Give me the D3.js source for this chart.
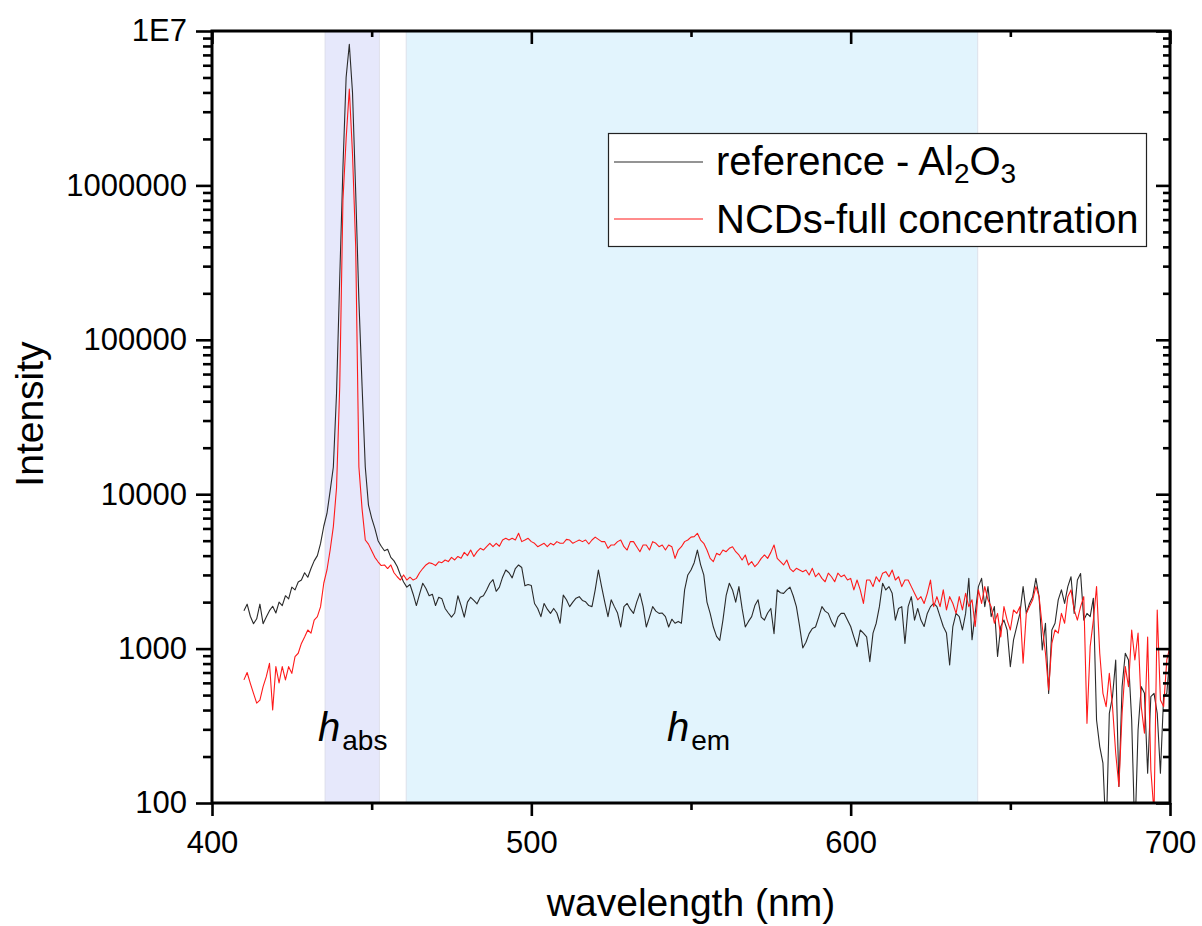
<!DOCTYPE html>
<html><head><meta charset="utf-8">
<script src="https://cdn.jsdelivr.net/npm/d3@7"></script>
<style>
body{margin:0;background:#fff;}
svg{display:block;}
text{font-family:"Liberation Sans",Arial,sans-serif;}
</style>
</head><body>
<svg id="chart" width="1202" height="926"></svg>
<script>
// ---------------- DATA ----------------
const wavelengthStart = 410, wavelengthEnd = 700; // 1 nm sampling
const seriesNames = ["reference - Al2O3", "NCDs-full concentration"];
const referenceAl2O3 = [
 1760,1940,1620,1450,1560,1940,1450,1600,1760,1880, // 410
 1700,2000,1900,2200,2100,2500,2400,2700,2780,3100, // 420
 2900,3300,3700,4000,4800,6200,7500,10500,15000,45000, // 430
 250000,1300000,5000000,8200000,4000000,900000,180000,50000,15000,8500, // 440
 7000,6000,5000,4600,4300,4400,3900,3700,3400,3000, // 450
 2700,2500,2600,2250,1900,2250,2650,2450,2200,2250, // 460
 1900,2150,2100,1820,1700,1600,1700,2200,1900,1600, // 470
 2000,2150,2050,1950,2150,2200,2400,2650,2800,2350, // 480
 2500,2900,3230,3100,2870,3300,3480,3350,2550,2600, // 490
 2560,1960,1820,1610,1960,1800,1690,1820,1700,1460, // 500
 2220,2070,1870,2000,2120,2170,2050,2010,1900,1870, // 510
 2400,3230,2520,2000,1610,2070,1870,1700,1380,1870, // 520
 1960,1800,1690,2000,2280,1870,1380,1600,1870,1750, // 530
 1690,1700,1610,1380,1550,1460,1500,1460,2400,3000, // 540
 3230,3600,4350,3500,3000,2000,1690,1380,1200,1130, // 550
 1530,2200,2650,2400,2000,2520,1820,1380,1500,1610, // 560
 1900,2070,1600,1530,1700,1820,1250,2400,2300,2280, // 570
 2400,2500,2200,1870,1400,1010,1100,1250,1350,1380, // 580
 1600,1870,1750,1690,1500,1380,1600,1690,1690,1530, // 590
 1390,1190,1030,1320,1260,1190,823,1260,1460,1870, // 600
 2650,2400,2520,2280,1530,1820,1870,1080,1870,2170, // 610
 1530,1820,1530,1390,1690,1870,1960,1870,1610,1390, // 620
 1260,783,1390,1690,1610,1320,1690,2850,1140,1690, // 630
 2520,2850,1870,2520,1610,1870,888,1390,1530,1320, // 640
 764,1140,1390,1690,2520,1690,1960,2170,2850,2170, // 650
 980,1460,513,1320,1460,2070,2400,1960,2520,2920, // 660
 1690,2780,3060,1530,1690,1610,2120,345,232,181, // 670
 60,381,489,844,128,567,933,844,345,60, // 680
 297,567,513,156,489,513,381,156,489,513, // 690
 933 // 700
];
const ncdsFull = [
 627,700,596,513,443,464,567,658,803,400, // 410
 764,600,764,627,764,691,888,933,1080,1190, // 420
 1320,1260,1530,1610,1870,2650,3230,4350,6170,11000, // 430
 50000,800000,2000000,4200000,1600000,400000,15000,8000,5050,4750, // 440
 4300,3900,3650,3450,3480,3300,3480,3100,2920,2780, // 450
 3000,2780,2900,2780,2850,3100,3300,3480,3600,3550, // 460
 3450,3650,3600,3750,3660,3900,3750,3950,3850,4200, // 470
 4000,4350,3950,4250,4460,4350,4570,4810,4570,4810, // 480
 4600,5050,5180,5050,5180,5050,5580,4930,5050,5180, // 490
 4930,4810,4570,4690,4810,4570,4810,4690,4930,4810, // 500
 4810,5100,5050,4810,4930,5050,4930,5050,4760,5050, // 510
 5270,5100,4930,4930,4460,4690,4690,4930,5050,4570, // 520
 4350,4930,4930,4570,4240,4690,4690,4350,4930,4810, // 530
 4570,4690,4350,4690,4570,3840,4350,4570,4930,5050, // 540
 5270,5310,5580,5050,4810,4350,3840,3660,4140,4040, // 550
 4350,4240,4460,4570,4240,4040,3750,4040,3480,3660, // 560
 3390,3570,3840,4040,3840,4200,4690,3840,3660,3480, // 570
 3750,3300,3150,3310,3230,3150,3230,3000,3310,2920, // 580
 3080,2850,2710,3080,2920,2710,3080,2920,3000,2780, // 590
 2850,2400,2780,2400,1960,2780,2780,2520,2920,2710, // 600
 3080,3150,2920,3230,2780,2920,2520,2780,2780,2520, // 610
 2280,2070,2170,1960,2280,2780,1870,2170,1870,2400, // 620
 1780,2170,1960,1690,2170,1780,2280,1870,2070,1390, // 630
 2400,1960,2520,2070,1870,1460,1690,1190,1870,1530, // 640
 1320,1780,1690,1870,803,1690,1870,2070,2520,2170, // 650
 1390,933,540,1080,1320,1260,1690,1460,2170,2400, // 660
 1780,1530,1870,2170,328,1030,1530,2520,933,513, // 670
 421,691,421,210,128,381,764,567,1320,844, // 680
 1260,421,283,1190,164,86,1780,464,421,844, // 690
 1030 // 700
];
const xMajorTicks = [400, 500, 600, 700];
const xMinorTicks = [450, 550, 650];
const yMajorTicks = [100, 1000, 10000, 100000, 1000000, 10000000];
const yTickLabels = ["100", "1000", "10000", "100000", "1000000", "1E7"];
const bandRanges = [[435.4, 452.4], [460.8, 639.8]];
const bandLabels = ["abs", "em"];

// ---------------- CHART ----------------
const wavelengths = d3.range(wavelengthStart, wavelengthEnd + 1);
const svg = d3.select("#chart");
const L = 212, R = 1170, T = 31, B = 803;
const font = "'Liberation Sans', Arial, sans-serif";

const x = d3.scaleLinear().domain([400, 700]).range([L, R]);
const y = d3.scaleLog().domain([100, 1e7]).range([B, T]);

svg.append("rect").attr("width", 1202).attr("height", 926).attr("fill", "#fff");

// shaded bands
const bandFills = ["#e6e8fb", "#e2f4fd"];
bandRanges.forEach((b, i) => {
  svg.append("rect")
    .attr("x", x(b[0])).attr("y", T)
    .attr("width", x(b[1]) - x(b[0])).attr("height", B - T)
    .attr("fill", bandFills[i])
    .attr("stroke", "#d9dbe6").attr("stroke-width", 0.8);
});

// clip
svg.append("clipPath").attr("id", "plotclip")
  .append("rect").attr("x", L).attr("y", T).attr("width", R - L).attr("height", B - T);

const line = d3.line().x((d, i) => x(wavelengths[i])).y(d => y(d));
const g = svg.append("g").attr("clip-path", "url(#plotclip)");
g.append("path").datum(referenceAl2O3).attr("d", line)
  .attr("fill", "none").attr("stroke", "#2a2a2a").attr("stroke-width", 1.1).attr("stroke-linejoin", "round");
g.append("path").datum(ncdsFull).attr("d", line)
  .attr("fill", "none").attr("stroke", "#ff1a1a").attr("stroke-width", 1.1).attr("stroke-linejoin", "round");

// band labels
const bandLabelPos = [[318, 741], [667, 741]];
bandRanges.forEach((b, i) => {
  const t = svg.append("text").attr("x", bandLabelPos[i][0]).attr("y", bandLabelPos[i][1])
    .attr("font-family", font).attr("fill", "#000");
  t.append("tspan").attr("font-style", "italic").attr("font-size", 40).text("h");
  t.append("tspan").attr("font-size", 28).attr("dx", 2).attr("dy", 9).text(bandLabels[i]);
});

// y minor ticks
const yMinor = [];
yMajorTicks.slice(0, -1).forEach(d => { for (let k = 2; k <= 9; k++) yMinor.push(d * k); });

function styleAxis(sel) {
  sel.select(".domain").remove();
  sel.selectAll(".tick line").attr("stroke", "#000").attr("stroke-width", 2.6);
  sel.selectAll(".tick text").attr("font-family", font).attr("font-size", 31).attr("fill", "#000");
}

// left
svg.append("g").attr("transform", `translate(${L},0)`)
  .call(d3.axisLeft(y).tickValues(yMajorTicks).tickFormat((d, i) => yTickLabels[i]).tickSize(16).tickPadding(9))
  .call(styleAxis);
svg.append("g").attr("transform", `translate(${L},0)`)
  .call(d3.axisLeft(y).tickValues(yMinor).tickFormat("").tickSize(9))
  .call(styleAxis);
// right (inward)
svg.append("g").attr("transform", `translate(${R},0)`)
  .call(d3.axisRight(y).tickValues(yMajorTicks).tickFormat("").tickSize(-14))
  .call(styleAxis);
svg.append("g").attr("transform", `translate(${R},0)`)
  .call(d3.axisRight(y).tickValues(yMinor).tickFormat("").tickSize(-7))
  .call(styleAxis);
// bottom
svg.append("g").attr("transform", `translate(0,${B})`)
  .call(d3.axisBottom(x).tickValues(xMajorTicks).tickFormat(d3.format("d")).tickSize(13).tickPadding(15))
  .call(styleAxis);
svg.append("g").attr("transform", `translate(0,${B})`)
  .call(d3.axisBottom(x).tickValues(xMinorTicks).tickFormat("").tickSize(7))
  .call(styleAxis);
// top (inward)
svg.append("g").attr("transform", `translate(0,${T})`)
  .call(d3.axisTop(x).tickValues(xMajorTicks).tickFormat("").tickSize(-13))
  .call(styleAxis);
svg.append("g").attr("transform", `translate(0,${T})`)
  .call(d3.axisTop(x).tickValues(xMinorTicks).tickFormat("").tickSize(-6))
  .call(styleAxis);

// frame
svg.append("rect").attr("x", L).attr("y", T).attr("width", R - L).attr("height", B - T)
  .attr("fill", "none").attr("stroke", "#000").attr("stroke-width", 3);

// titles
svg.append("text").attr("x", (L + R) / 2).attr("y", 916).attr("text-anchor", "middle")
  .attr("font-family", font).attr("font-size", 39).text("wavelength (nm)");
svg.append("text").attr("transform", "translate(43,414) rotate(-90)").attr("text-anchor", "middle")
  .attr("font-family", font).attr("font-size", 39).text("Intensity");

// legend
const lg = svg.append("g");
lg.append("rect").attr("x", 608.5).attr("y", 133.5).attr("width", 538).attr("height", 113)
  .attr("fill", "#fff").attr("stroke", "#222").attr("stroke-width", 1.2);
const legendColors = ["#2a2a2a", "#ff1a1a"];
const legendY = [162, 219];
seriesNames.forEach((n, i) => {
  lg.append("line").attr("x1", 614).attr("x2", 703).attr("y1", legendY[i]).attr("y2", legendY[i])
    .attr("stroke", legendColors[i]).attr("stroke-width", 1.1);
});
const t1 = lg.append("text").attr("x", 716).attr("y", legendY[0] + 13).attr("font-family", font).attr("font-size", 40);
t1.append("tspan").text("reference - Al");
t1.append("tspan").attr("font-size", 28).attr("dy", 8).text("2");
t1.append("tspan").attr("dy", -8).text("O");
t1.append("tspan").attr("font-size", 28).attr("dy", 8).text("3");
lg.append("text").attr("x", 716).attr("y", legendY[1] + 14).attr("font-family", font).attr("font-size", 40)
  .text(seriesNames[1]);
</script>
</body></html>
